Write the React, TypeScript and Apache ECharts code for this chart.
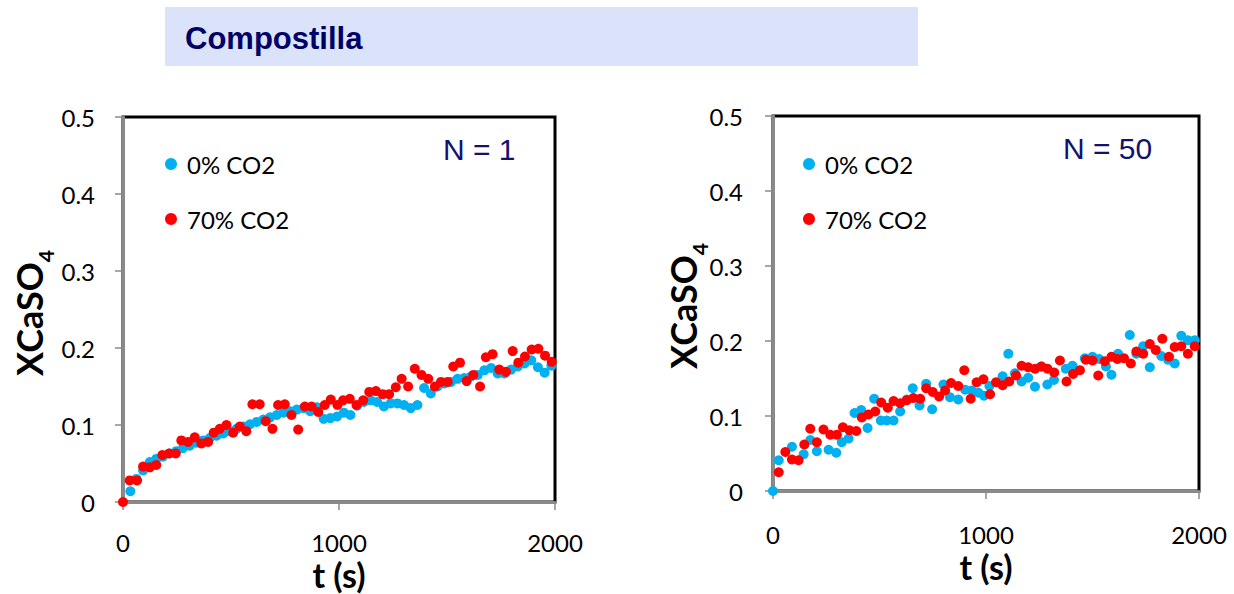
import React, { useEffect, useRef } from "react";
import * as echarts from "echarts";

// Sulfation conversion X(CaSO4) vs time, Compostilla limestone.
// N = 1 (first cycle)
const n1BlueT = [34, 62, 93, 124, 154, 185, 216, 247, 278, 309, 340, 371, 402, 433, 464, 495, 526, 557, 588, 619, 650, 681, 712, 743, 774, 805, 836, 867, 898, 929, 960, 991, 1022, 1053, 1084, 1115, 1146, 1177, 1208, 1239, 1270, 1301, 1332, 1363, 1394, 1425, 1456, 1487, 1518, 1549, 1580, 1611, 1642, 1673, 1704, 1735, 1766, 1797, 1828, 1859, 1890, 1921, 1952, 1983];
const n1BlueX = [0.014, 0.03, 0.041, 0.052, 0.056, 0.059, 0.063, 0.066, 0.07, 0.073, 0.077, 0.08, 0.083, 0.086, 0.089, 0.092, 0.095, 0.098, 0.101, 0.104, 0.107, 0.11, 0.113, 0.116, 0.118, 0.12, 0.122, 0.118, 0.123, 0.108, 0.109, 0.111, 0.116, 0.113, 0.125, 0.13, 0.132, 0.13, 0.124, 0.128, 0.128, 0.126, 0.122, 0.126, 0.148, 0.141, 0.15, 0.154, 0.156, 0.16, 0.161, 0.163, 0.165, 0.171, 0.174, 0.167, 0.167, 0.172, 0.176, 0.18, 0.184, 0.175, 0.168, 0.177];
const n1RedT = [0, 31, 65, 93, 124, 154, 182, 213, 244, 270, 301, 332, 363, 394, 420, 448, 479, 510, 541, 571, 599, 633, 661, 692, 718, 749, 780, 811, 842, 873, 904, 934, 962, 993, 1019, 1050, 1081, 1112, 1140, 1171, 1202, 1232, 1263, 1290, 1320, 1351, 1382, 1413, 1444, 1472, 1503, 1529, 1560, 1591, 1622, 1653, 1680, 1711, 1742, 1773, 1804, 1830, 1861, 1892, 1923, 1954, 1985];
const n1RedX = [0, 0.028, 0.028, 0.046, 0.045, 0.048, 0.061, 0.063, 0.063, 0.08, 0.078, 0.084, 0.076, 0.078, 0.09, 0.095, 0.1, 0.09, 0.098, 0.092, 0.127, 0.127, 0.105, 0.095, 0.126, 0.127, 0.113, 0.094, 0.124, 0.124, 0.117, 0.126, 0.133, 0.126, 0.132, 0.134, 0.126, 0.132, 0.143, 0.144, 0.14, 0.14, 0.149, 0.16, 0.15, 0.173, 0.165, 0.16, 0.15, 0.156, 0.156, 0.176, 0.181, 0.157, 0.165, 0.15, 0.188, 0.192, 0.172, 0.169, 0.196, 0.181, 0.189, 0.198, 0.199, 0.19, 0.182];

// N = 50 (fiftieth cycle)
const n50BlueT = [0, 27, 89, 144, 175, 206, 261, 297, 323, 355, 383, 414, 444, 475, 506, 534, 566, 597, 628, 656, 688, 719, 747, 800, 831, 870, 902, 933, 964, 991, 1016, 1078, 1105, 1136, 1167, 1198, 1230, 1258, 1288, 1319, 1375, 1406, 1464, 1500, 1531, 1563, 1589, 1620, 1675, 1706, 1738, 1769, 1823, 1855, 1886, 1917, 1948, 1980];
const n50BlueX = [0, 0.041, 0.059, 0.049, 0.068, 0.053, 0.055, 0.051, 0.065, 0.07, 0.104, 0.108, 0.084, 0.123, 0.094, 0.094, 0.094, 0.106, 0.122, 0.137, 0.114, 0.143, 0.109, 0.142, 0.125, 0.122, 0.135, 0.134, 0.131, 0.127, 0.14, 0.153, 0.183, 0.157, 0.146, 0.151, 0.139, 0.166, 0.142, 0.148, 0.163, 0.167, 0.177, 0.179, 0.176, 0.166, 0.155, 0.183, 0.208, 0.183, 0.193, 0.165, 0.18, 0.175, 0.17, 0.207, 0.201, 0.201];
const n50RedT = [27, 58, 89, 120, 147, 175, 206, 237, 269, 300, 328, 359, 391, 417, 448, 480, 508, 539, 566, 597, 628, 659, 691, 719, 750, 780, 808, 836, 870, 898, 928, 956, 988, 1019, 1047, 1078, 1109, 1141, 1167, 1198, 1230, 1261, 1289, 1320, 1347, 1378, 1409, 1441, 1469, 1500, 1527, 1558, 1589, 1617, 1648, 1680, 1706, 1738, 1769, 1797, 1828, 1859, 1886, 1917, 1948, 1980];
const n50RedX = [0.025, 0.052, 0.042, 0.041, 0.062, 0.083, 0.065, 0.082, 0.075, 0.075, 0.085, 0.081, 0.08, 0.098, 0.102, 0.106, 0.118, 0.111, 0.12, 0.117, 0.121, 0.124, 0.123, 0.137, 0.132, 0.126, 0.134, 0.144, 0.14, 0.161, 0.123, 0.145, 0.149, 0.129, 0.145, 0.141, 0.146, 0.154, 0.167, 0.165, 0.163, 0.166, 0.163, 0.158, 0.174, 0.146, 0.156, 0.161, 0.175, 0.174, 0.154, 0.173, 0.179, 0.176, 0.177, 0.17, 0.186, 0.183, 0.196, 0.188, 0.203, 0.179, 0.192, 0.193, 0.183, 0.193];

const seriesNames = ["0% CO2", "70% CO2"];
const seriesColors = ["#00B0F0", "#FF0000"];
const panelLabels = ["N = 1", "N = 50"];
const yTicks = [0, 0.1, 0.2, 0.3, 0.4, 0.5];
const xTicks = [0, 1000, 2000];

const pairs = (t: number[], v: number[]) => t.map((ti, i) => [ti, v[i]]);

const TICK_FONT = "Lato, 'Open Sans', sans-serif";

export default function App() {
  const ref = useRef<HTMLDivElement>(null);

  useEffect(() => {
    if (!ref.current) return;
    const chart = echarts.init(ref.current, null, { renderer: "svg" });

    const grids = [
      { left: 123, top: 117, width: 432, height: 385 },
      { left: 773, top: 116, width: 426, height: 375 },
    ];
    const xLabelMargin = [31, 34];
    const yLabelMargin = [28, 30];

    const xAxis = grids.map((_, i) => ({
      type: "value",
      gridIndex: i,
      min: xTicks[0],
      max: xTicks[xTicks.length - 1],
      interval: 1000,
      axisLine: { show: true, lineStyle: { color: "#8a8a8a", width: 3 } },
      axisTick: { show: true, inside: false, length: 8, lineStyle: { color: "#8a8a8a", width: 1.5 } },
      axisLabel: {
        color: "#000",
        fontFamily: TICK_FONT,
        fontSize: 24,
        lineHeight: 18,
        margin: xLabelMargin[i],
        formatter: (v: number) => String(v),
      },
      splitLine: { show: false },
    }));
    const yAxis = grids.map((_, i) => ({
      type: "value",
      gridIndex: i,
      min: yTicks[0],
      max: yTicks[yTicks.length - 1],
      interval: 0.1,
      axisLine: { show: true, lineStyle: { color: "#8a8a8a", width: 3 } },
      axisTick: { show: true, inside: false, length: 8, lineStyle: { color: "#8a8a8a", width: 1.5 } },
      axisLabel: {
        color: "#000",
        fontFamily: TICK_FONT,
        fontSize: 24,
        margin: yLabelMargin[i],
        formatter: (v: number) => String(Math.round(v * 10) / 10),
      },
      splitLine: { show: false },
    }));

    const data = [
      [pairs(n1BlueT, n1BlueX), pairs(n1RedT, n1RedX)],
      [pairs(n50BlueT, n50BlueX), pairs(n50RedT, n50RedX)],
    ];
    const series: any[] = [];
    data.forEach((panel, gi) => {
      panel.forEach((pts, si) => {
        series.push({
          type: "scatter",
          name: seriesNames[si],
          xAxisIndex: gi,
          yAxisIndex: gi,
          data: pts,
          symbol: "circle",
          symbolSize: 10,
          itemStyle: { color: seriesColors[si], opacity: 1 },
          z: 2 + si,
        });
      });
    });

    const legendStyle = (left: number) => ({
      left,
      top: 152,
      padding: 0,
      orient: "vertical",
      data: seriesNames.map((n) => ({ name: n, icon: "circle", itemStyle: { opacity: 1 } })),
      itemWidth: 12,
      itemHeight: 12,
      itemGap: 31,
      selectedMode: false,
      textStyle: { color: "#000", fontFamily: TICK_FONT, fontSize: 24, lineHeight: 24, padding: [0, 0, 0, 5] },
    });

    const axisTitle = (x: number, y: number) => ({
      type: "text",
      x,
      y,
      rotation: Math.PI / 2,
      style: {
        text: "{a|XCaSO}{b|4}",
        align: "center",
        verticalAlign: "middle",
        rich: {
          a: { fontFamily: TICK_FONT, fontWeight: "bold", fontSize: 36, color: "#000", verticalAlign: "bottom", padding: [0, 0, 9, 0] },
          b: { fontFamily: TICK_FONT, fontWeight: "bold", fontSize: 21, color: "#000", verticalAlign: "bottom" },
        },
      },
    });
    const timeTitle = (x: number, y: number) => ({
      type: "text",
      x,
      y,
      style: {
        text: "t (s)",
        align: "center",
        verticalAlign: "middle",
        fontFamily: TICK_FONT,
        fontWeight: "bold",
        fontSize: 34,
        lineHeight: 32,
        fill: "#000",
      },
    });
    const panelLabel = (x: number, y: number, text: string) => ({
      type: "text",
      x,
      y,
      style: {
        text,
        align: "left",
        verticalAlign: "middle",
        fontFamily: "'Liberation Sans', Arial, sans-serif",
        fontSize: 30,
        fill: "#12126e",
      },
    });

    chart.setOption({
      animation: false,
      backgroundColor: "#ffffff",
      grid: grids.map((g) => ({
        ...g,
        show: true,
        backgroundColor: "#ffffff",
        borderColor: "#000000",
        borderWidth: 3,
      })),
      xAxis,
      yAxis,
      series,
      legend: [legendStyle(165), legendStyle(803)],
      graphic: [
        {
          type: "rect",
          shape: { x: 165, y: 7, width: 753, height: 59 },
          style: { fill: "#dbe3fb" },
        },
        {
          type: "text",
          x: 185,
          y: 38,
          style: {
            text: "Compostilla",
            align: "left",
            verticalAlign: "middle",
            fontFamily: "'Liberation Sans', Arial, sans-serif",
            fontWeight: "bold",
            fontSize: 31,
            fill: "#000066",
          },
        },
        axisTitle(33, 313),
        axisTitle(687, 306),
        timeTitle(339, 574),
        timeTitle(986, 566),
        panelLabel(443, 149, panelLabels[0]),
        panelLabel(1063, 148, panelLabels[1]),
      ],
    });

    return () => chart.dispose();
  }, []);

  return (
    <div
      ref={ref}
      style={{ position: "absolute", left: 0, top: 0, width: 1234, height: 594 }}
    />
  );
}
